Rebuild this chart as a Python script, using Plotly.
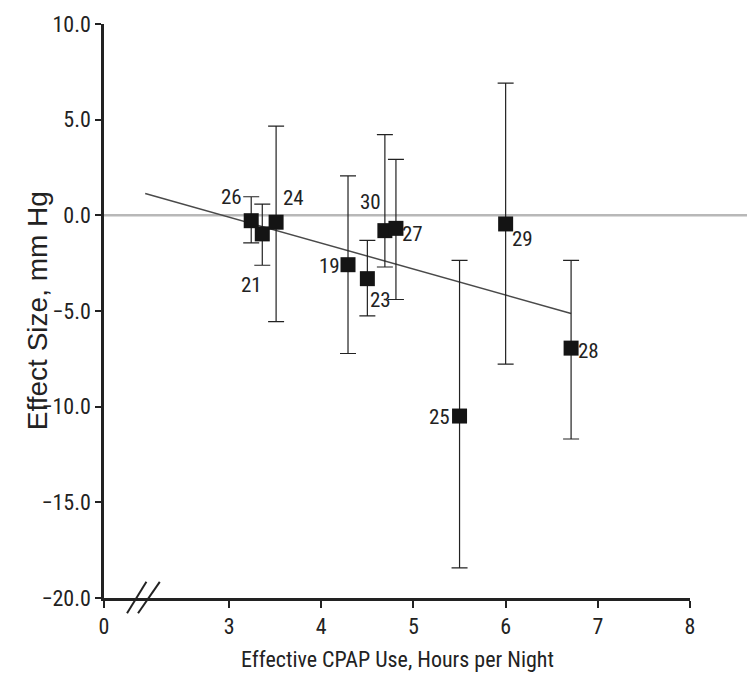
import plotly.graph_objects as go

# ---- data ----
study_ids = ['26', '21', '24', '19', '23', '30', '27', '25', '29', '28']
cpap_hours = [3.24, 3.36, 3.51, 4.29, 4.50, 4.69, 4.81, 5.50, 6.00, 6.71]
effect_size = [-0.28, -0.97, -0.36, -2.58, -3.31, -0.80, -0.68, -10.49, -0.45, -6.94]
ci_upper = [0.97, 0.59, 4.66, 2.06, -1.31, 4.22, 2.92, -2.35, 6.91, -2.35]
ci_lower = [-1.44, -2.61, -5.56, -7.22, -5.26, -2.70, -4.40, -18.43, -7.78, -11.69]

reg_x = [2.09, 6.71]
reg_y = [1.14, -5.13]

x_tick_text = ['0', '3', '4', '5', '6', '7', '8']
x_tick_real = [3, 4, 5, 6, 7, 8]
y_tick_vals = [10, 5, 0, -5, -10, -15, -20]
y_tick_text = ['10.0', '5.0', '0.0', '\u22125.0', '\u221210.0', '\u221215.0', '\u221220.0']

# label offsets (pixels) for study numbers
label_offsets = {
    '26': (-20, 24), '21': (-11, -51), '24': (17, 24), '19': (-19, -1),
    '23': (13, -21), '30': (-14, 29), '27': (17, -6), '25': (-20, -1),
    '29': (17, -15), '28': (17, -3),
}

# axis break: "0" is drawn just left of the break
X_ZERO_POS = 1.643
X_MAX = 8

NARROW = "Liberation Sans Narrow, Arial Narrow, Roboto Condensed, Liberation Sans, sans-serif"
INK = '#222222'

fig = go.Figure()

fig.add_trace(go.Scatter(
    x=reg_x, y=reg_y, mode='lines',
    line=dict(color='#4a4a4a', width=1.5),
    hoverinfo='skip', showlegend=False,
))

err_plus = [u - v for u, v in zip(ci_upper, effect_size)]
err_minus = [v - l for v, l in zip(effect_size, ci_lower)]

fig.add_trace(go.Scatter(
    x=cpap_hours, y=effect_size, mode='markers',
    marker=dict(symbol='square', size=15, color='#141414'),
    error_y=dict(type='data', symmetric=False, array=err_plus, arrayminus=err_minus,
                 color=INK, thickness=1.2, width=8),
    showlegend=False,
))

for sid, xv, yv in zip(study_ids, cpap_hours, effect_size):
    dx, dy = label_offsets[sid]
    fig.add_annotation(x=xv, y=yv, xref='x', yref='y', text=sid, showarrow=False,
                       xshift=dx, yshift=dy,
                       font=dict(family=NARROW, size=21, color=INK))

# zero reference line extending to the right edge
fig.add_shape(type='line', xref='paper', yref='y', x0=0, x1=1.1, y0=0, y1=0,
              line=dict(color='#b8b8b8', width=2.5), layer='below')

# axis break marks
for x0b, x1b in [(1.893, 2.103), (2.012, 2.248)]:
    fig.add_shape(type='line', xref='x', yref='paper', x0=x0b, x1=x1b,
                  y0=-0.0265, y1=0.0282, line=dict(color=INK, width=2))

fig.add_annotation(xref='paper', yref='paper', x=-0.114, y=0.5,
                   xanchor='center', yanchor='middle',
                   text='Effect Size, mm Hg', textangle=-90, showarrow=False,
                   font=dict(family='Liberation Sans, Arial, sans-serif', size=28, color=INK))
fig.add_annotation(xref='paper', yref='paper', x=0.5, y=-0.108,
                   xanchor='center', yanchor='middle',
                   text='Effective CPAP Use, Hours per Night', showarrow=False,
                   font=dict(family=NARROW, size=22, color=INK))

fig.update_layout(
    width=747, height=690,
    margin=dict(l=104, r=57, t=20, b=92),
    paper_bgcolor='white', plot_bgcolor='white',
    xaxis=dict(range=[X_ZERO_POS, X_MAX], tickvals=[X_ZERO_POS] + x_tick_real,
               ticktext=x_tick_text, showgrid=False, zeroline=False,
               showline=True, linecolor=INK, linewidth=2.5,
               ticks='outside', ticklen=7, tickwidth=2, tickcolor=INK,
               tickfont=dict(family=NARROW, size=22, color=INK)),
    yaxis=dict(range=[-20, 10], tickvals=y_tick_vals, ticktext=y_tick_text,
               showgrid=False, zeroline=False,
               showline=True, linecolor=INK, linewidth=2.5,
               ticks='outside', ticklen=6, tickwidth=2, tickcolor=INK,
               tickfont=dict(family=NARROW, size=22, color=INK)),
)

fig.write_html("out.html", config={'displayModeBar': False},
               post_script="document.body.style.margin='0';")
